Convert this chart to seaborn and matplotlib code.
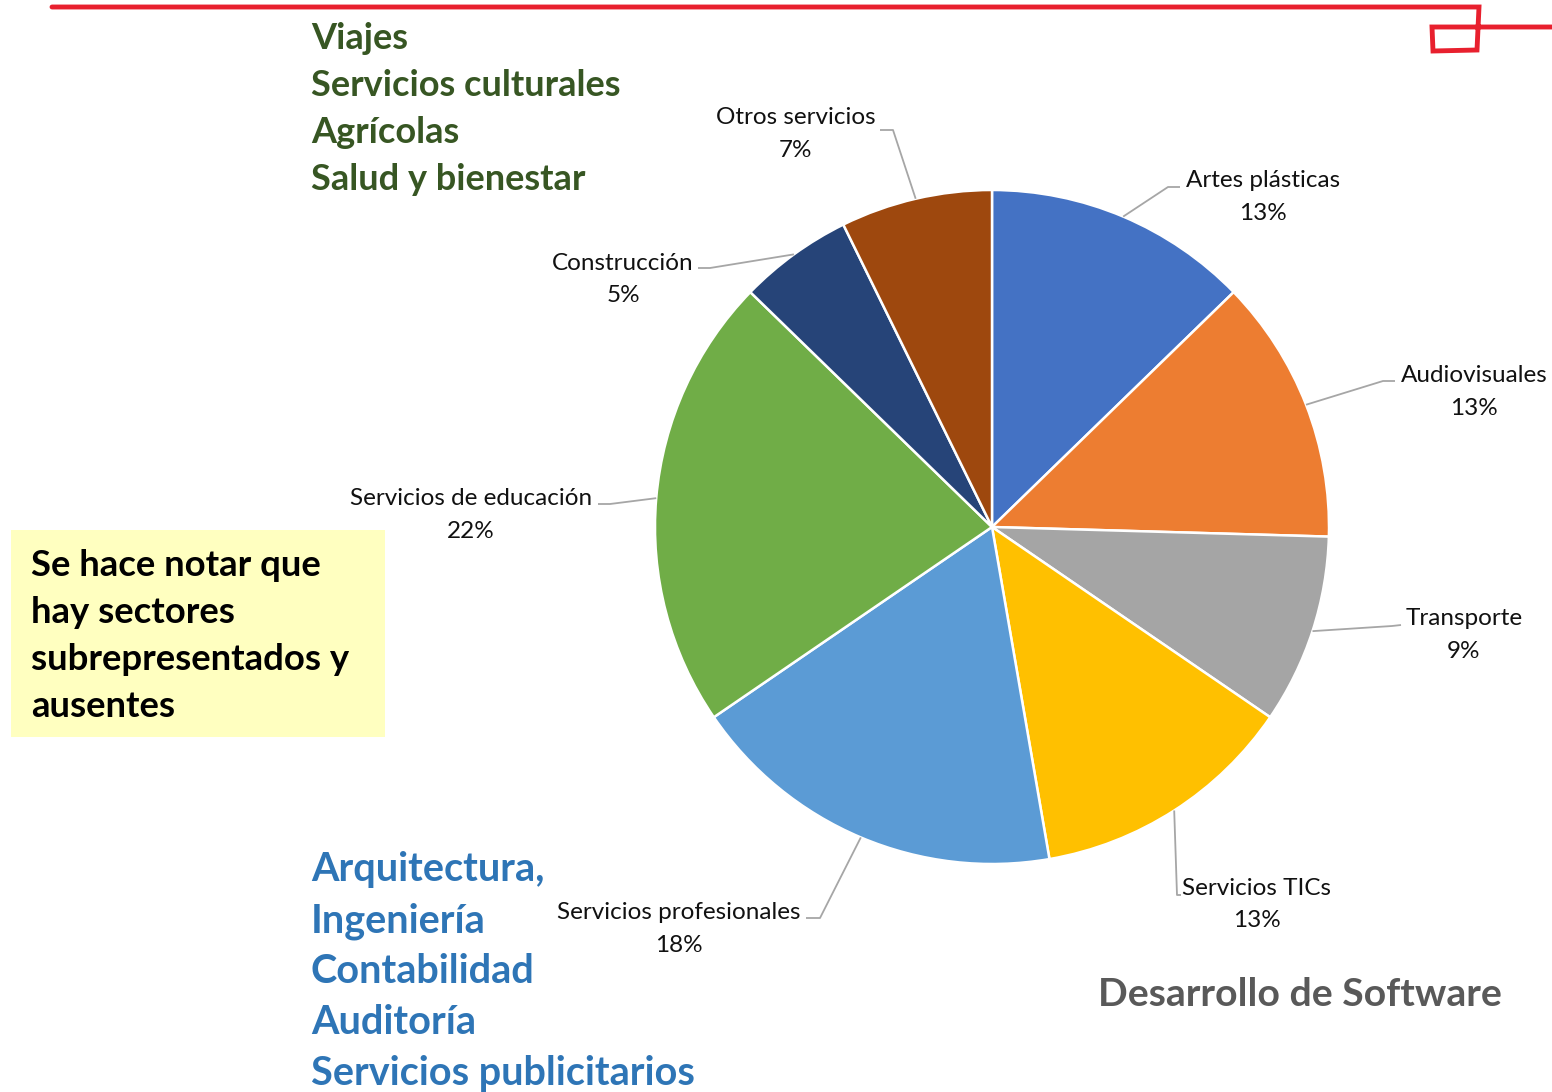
import numpy as np
import matplotlib
matplotlib.use("Agg")
import matplotlib.pyplot as plt
import seaborn as sns

# Sector data (number of companies per sector)
sectores = ["Artes plásticas", "Audiovisuales", "Transporte", "Servicios TICs",
            "Servicios profesionales", "Servicios de educación", "Construcción",
            "Otros servicios"]
empresas = [7, 7, 5, 7, 10, 12, 3, 4]
colores = ["#4472C4", "#ED7D31", "#A5A5A5", "#FFC000",
           "#5B9BD5", "#70AD47", "#264478", "#9E480E"]

ausentes = ["Viajes", "Servicios culturales", "Agrícolas", "Salud y bienestar"]
profesionales = ["Arquitectura,", "Ingeniería", "Contabilidad", "Auditoría",
                 "Servicios publicitarios"]
nota = ["Se hace notar que", "hay sectores", "subrepresentados y", "ausentes"]
tics_nota = "Desarrollo de Software"

sns.set_theme(style="white")
plt.rcParams["font.family"] = ["Lato", "DejaVu Sans"]

W, H = 1552, 1092
fig = plt.figure(figsize=(W / 100, H / 100), dpi=100)
ax = fig.add_axes([0, 0, 1, 1])


def Y(y):
    return H - y


# Pie
cx, cy, r = 992, 527, 337
palette = sns.color_palette(colores)
wedges, _ = ax.pie(empresas, colors=palette, startangle=90, counterclock=False,
                   center=(cx, Y(cy)), radius=r, frame=True,
                   wedgeprops=dict(edgecolor="white", linewidth=1.8))
ax.set_xlim(0, W)
ax.set_ylim(0, H)
ax.set_aspect("equal")
ax.axis("off")

total = sum(empresas)
pct = [round(100 * v / total) for v in empresas]

# label layout: (text center x, name y, pct y, elbow, end)
layout = [
    (1263, 179, 212, (1168, 187), (1180, 187)),
    (1474, 374, 407, (1383, 381), (1395, 381)),
    (1464, 617, 650, (1392, 626), (1401, 625)),
    (1257, 887, 919, (1177, 895), (1181, 895)),
    (679, 911, 944, (820, 918), (806, 918)),
    (471, 497, 530, (610, 504), (598, 504)),
    (623, 262, 294, (710, 268), (698, 268)),
    (796, 116, 149, (893, 130), (880, 130)),
]

for w, name, p, (tx, ny, py, elbow, end) in zip(wedges, sectores, pct, layout):
    mid = np.deg2rad((w.theta1 + w.theta2) / 2)
    sx = cx + r * np.cos(mid)
    sy = Y(cy) + r * np.sin(mid)
    ax.plot([sx, elbow[0], end[0]], [sy, Y(elbow[1]), Y(end[1])],
            color="#A6A6A6", lw=1.3, solid_capstyle="butt", zorder=3)
    ax.text(tx, Y(ny + 8), name, ha="center", va="baseline",
            fontsize=17.5, color="#111111")
    ax.text(tx, Y(py + 8), f"{p}%", ha="center", va="baseline",
            fontsize=17.5, color="#111111")

# Sectors without representation
for i, t in enumerate(ausentes):
    ax.text(311, Y(49 + 47 * i), t, ha="left", va="baseline",
            fontsize=26, fontweight="bold", color="#375623")

# Professional services breakdown
for i, t in enumerate(profesionales):
    ax.text(311, Y(881 + 51 * i), t, ha="left", va="baseline",
            fontsize=28.5, fontweight="bold", color="#2E75B6")

# Note box
ax.add_patch(plt.Rectangle((11, Y(737)), 374, 207, facecolor="#FFFFC0",
                           edgecolor="none", zorder=1))
for i, t in enumerate(nota):
    ax.text(31, Y(576 + 47 * i), t, ha="left", va="baseline",
            fontsize=26.3, fontweight="bold", color="#000000", zorder=2)

ax.text(1098, Y(1006), tics_nota, ha="left", va="baseline",
        fontsize=28.3, fontweight="bold", color="#595959")

# Red header rule
rx = [52, 1479, 1477, 1433, 1432, 1552]
ry = [7, 7, 50, 51, 27, 27]
ax.plot(rx, [Y(v) for v in ry], color="#E8202E", lw=3.5,
        solid_joinstyle="miter", zorder=4, clip_on=False)

fig.savefig("out.png", dpi=100)
